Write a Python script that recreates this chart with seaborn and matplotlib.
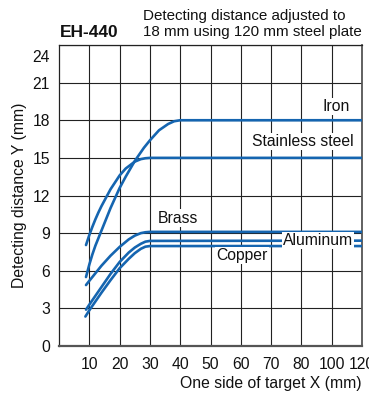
import numpy as np
import pandas as pd
import matplotlib
matplotlib.use("Agg")
import matplotlib.pyplot as plt
import seaborn as sns

# Tick values on the target-size axis (uneven spacing: 80 -> 100 -> 120)
x_ticks = [10, 20, 30, 40, 50, 60, 70, 80, 100, 120]
y_ticks = [0, 3, 6, 9, 12, 15, 18, 21, 24]

# Detecting distance curves (x = one side of target in mm, y = distance in mm)
iron_x = [8.9, 10, 11, 12, 13, 15, 17, 20, 22, 25, 28, 30, 33, 36, 38, 40, 120]
iron_y = [5.5, 6.5, 7.3, 8.0, 8.6, 9.8, 11.0, 12.6, 13.5, 14.75, 15.8, 16.4,
          17.2, 17.7, 17.92, 18.0, 18.0]

stainless_x = [8.9, 10, 11, 12, 13, 14, 15, 17, 20, 22, 25, 27, 28.5, 30, 120]
stainless_y = [8.05, 8.85, 9.5, 10.1, 10.65, 11.15, 11.6, 12.5, 13.6, 14.15,
               14.7, 14.9, 14.97, 15.0, 15.0]

brass_x = [8.9, 10, 12, 14, 17, 20, 23, 25, 27, 28.5, 30, 120]
brass_y = [4.86, 5.2, 5.8, 6.4, 7.2, 7.9, 8.5, 8.8, 9.0, 9.07, 9.1, 9.1]

aluminum_x = [8.9, 10, 12, 14, 17, 20, 23, 25, 27, 28.5, 30, 120]
aluminum_y = [2.9, 3.3, 4.0, 4.7, 5.75, 6.7, 7.45, 7.85, 8.15, 8.32, 8.38, 8.4]

copper_x = [8.7, 10, 12, 14, 17, 20, 23, 25, 27, 28.5, 30, 120]
copper_y = [2.35, 2.85, 3.55, 4.25, 5.25, 6.2, 6.95, 7.4, 7.75, 7.92, 7.97,
            7.97]

materials = ["Iron", "Stainless steel", "Brass", "Aluminum", "Copper"]
label_x = [103, 81, 39.3, 91, 60.4]
label_y = [19.1, 16.3, 10.2, 8.4, 7.2]

sns.set_theme(style="white")
plt.rcParams["font.family"] = ["Liberation Sans", "DejaVu Sans"]

fig = plt.figure(figsize=(3.69, 3.94), dpi=100)
ax = fig.add_axes([0.160, 0.1218, 0.821, 0.7640])

# Piecewise-linear axis: evenly spaced ticks up to 80, then 100 and 120
scale_pts = [0] + x_ticks
scale_pos = list(range(len(scale_pts)))


def fwd(v):
    return np.interp(v, scale_pts, scale_pos)


def inv(v):
    return np.interp(v, scale_pos, scale_pts)


ax.set_xscale("function", functions=(fwd, inv))

blue = "#1565b0"
series = [
    (iron_x, iron_y),
    (stainless_x, stainless_y),
    (brass_x, brass_y),
    (aluminum_x, aluminum_y),
    (copper_x, copper_y),
]
for name, (xs, ys) in zip(materials, series):
    df = pd.DataFrame({"x": xs, "y": ys})
    sns.lineplot(data=df, x="x", y="y", ax=ax, color=blue, lw=1.9,
                 sort=False, estimator=None, zorder=3)

ax.set_xlim(0, 120)
ax.set_ylim(0, 24)
ax.set_xticks(x_ticks)
ax.set_xticklabels([str(t) for t in x_ticks])
ax.set_yticks(y_ticks)
ax.set_yticklabels([str(t) if t != 24 else "" for t in y_ticks])
ax.annotate("24", xy=(0, 24), xycoords=("axes fraction", "data"),
            xytext=(-6.5, -9), textcoords="offset points",
            ha="right", va="center", fontsize=11.3, color="#111111")

ax.grid(True, color="#222222", lw=0.8)
ax.set_axisbelow(True)
ax.tick_params(axis="both", length=0, labelsize=11.3, colors="#111111")
ax.tick_params(axis="x", pad=8)
ax.tick_params(axis="y", pad=6.5)
for side, sp in ax.spines.items():
    sp.set_visible(True)
    sp.set_color("#222222")
    sp.set_linewidth(0.9)
ax.spines["bottom"].set_color("#555555")
ax.spines["bottom"].set_linewidth(1.6)
ax.spines["right"].set_color("#555555")
ax.spines["right"].set_linewidth(1.3)

ax.set_xlabel("One side of target X (mm)", fontsize=11.3, color="#111111",
              loc="right", labelpad=3)
ax.set_ylabel("Detecting distance Y (mm)", fontsize=11.3, color="#111111",
              labelpad=4)

for name, lx, ly in zip(materials, label_x, label_y):
    ax.text(lx, ly, name, ha="center", va="center", fontsize=11.3,
            color="#111111", zorder=4,
            bbox=dict(boxstyle="square,pad=0.08", fc="white", ec="none"))

fig.text(0.163, 1 - 37.3 / 394, "EH-440", fontsize=12.5, fontweight="bold",
         ha="left", va="baseline", color="#111111")
fig.text(143 / 369, 1 - 20 / 394, "Detecting distance adjusted to",
         fontsize=10.9, ha="left", va="baseline", color="#111111")
fig.text(143 / 369, 1 - 36 / 394, "18 mm using 120 mm steel plate",
         fontsize=10.9, ha="left", va="baseline", color="#111111")

fig.savefig("out.png", dpi=100)
